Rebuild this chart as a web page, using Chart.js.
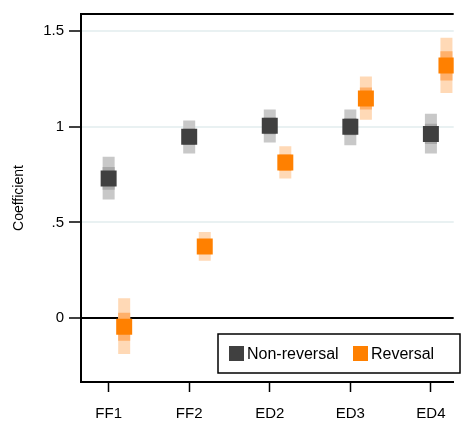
<!DOCTYPE html>
<html>
<head>
<meta charset="utf-8">
<script src="https://cdn.jsdelivr.net/npm/chart.js@4/dist/chart.umd.min.js"></script>
<style>
  html, body { margin: 0; padding: 0; background: #fff; overflow: hidden; }
  #wrap { width: 465px; height: 426px; }
</style>
</head>
<body>
<div id="wrap"><canvas id="chart" width="465" height="426"></canvas></div>
<script>
// ===== DATA =====
const categories  = ["FF1", "FF2", "ED2", "ED3", "ED4"];
const seriesNames = ["Non-reversal", "Reversal"];
const yTickValues = [0, 0.5, 1, 1.5];
const yTickLabels = ["0", ".5", "1", "1.5"];

// non-reversal: point estimate, inner band, outer band
const nonRevCoef  = [0.73, 0.948, 1.005, 1.0, 0.962];
const nonRevInLo  = [0.67, 0.905, 0.96, 0.955, 0.91];
const nonRevInHi  = [0.79, 0.99, 1.048, 1.045, 1.015];
const nonRevOutLo = [0.62, 0.86, 0.917, 0.903, 0.86];
const nonRevOutHi = [0.843, 1.033, 1.09, 1.09, 1.068];

// reversal
const revCoef  = [-0.045, 0.374, 0.813, 1.147, 1.32];
const revInLo  = [-0.118, 0.335, 0.77, 1.09, 1.242];
const revInHi  = [0.028, 0.41, 0.855, 1.205, 1.395];
const revOutLo = [-0.188, 0.30, 0.729, 1.037, 1.176];
const revOutHi = [0.104, 0.45, 0.898, 1.263, 1.465];

// ===== STYLE =====
const FONT      = "'Liberation Sans', Arial, sans-serif";
const DARK      = "#404040";
const GRAY_IN   = "#a9a9a9";
const GRAY_OUT  = "#c8c8c8";
const ORANGE    = "#ff8000";
const ORA_IN    = "#ffb06a";
const ORA_OUT   = "#ffd9b6";
const REV_SHIFT = 0.193;   // reversal sits right of the tick

// vertical bars as thick line segments, broken by null points
function bandPoints(lo, hi, shift) {
  const pts = [];
  lo.forEach((v, i) => {
    const x = i + 1 + shift;
    pts.push({ x, y: v }, { x, y: hi[i] }, { x: x + 0.5, y: null });
  });
  return pts;
}

function markerPoints(vals, shift) {
  return vals.map((v, i) => ({ x: i + 1 + shift, y: v }));
}

function band(lo, hi, shift, color, order) {
  return {
    type: "line",
    data: bandPoints(lo, hi, shift),
    borderColor: color,
    borderWidth: 12,
    borderCapStyle: "butt",
    pointRadius: 0,
    spanGaps: false,
    showLine: true,
    order
  };
}

function markers(vals, shift, color) {
  return {
    type: "scatter",
    data: markerPoints(vals, shift),
    pointStyle: "rect",
    pointRadius: 11.3,
    backgroundColor: color,
    borderColor: color,
    borderWidth: 0,
    order: 0
  };
}

// ===== PLUGINS =====
const frameAndLegend = {
  id: "frameAndLegend",
  afterDraw(chart) {
    const { ctx, chartArea } = chart;
    ctx.save();
    // top frame line
    ctx.strokeStyle = "#000";
    ctx.lineWidth = 2;
    ctx.beginPath();
    ctx.moveTo(chartArea.left - 1, chartArea.top);
    ctx.lineTo(chartArea.right, chartArea.top);
    ctx.stroke();

    // legend box
    const bx = 218, by = 334, bw = 242, bh = 39;
    ctx.fillStyle = "#fff";
    ctx.fillRect(bx, by, bw, bh);
    ctx.lineWidth = 1.5;
    ctx.strokeRect(bx, by, bw, bh);

    const cy = by + bh / 2;
    const items = [
      { x: 229, color: DARK,   label: seriesNames[0] },
      { x: 353, color: ORANGE, label: seriesNames[1] }
    ];
    ctx.font = "16px " + FONT;
    ctx.textBaseline = "middle";
    items.forEach(it => {
      ctx.fillStyle = it.color;
      ctx.fillRect(it.x, cy - 7.5, 15, 15);
      ctx.fillStyle = "#000";
      ctx.fillText(it.label, it.x + 18, cy + 1);
    });
    ctx.restore();
  }
};

// ===== CHART =====
new Chart(document.getElementById("chart"), {
  type: "scatter",
  data: {
    datasets: [
      band(nonRevOutLo, nonRevOutHi, 0, GRAY_OUT, 2),
      band(nonRevInLo, nonRevInHi, 0, GRAY_IN, 1),
      markers(nonRevCoef, 0, DARK),
      band(revOutLo, revOutHi, REV_SHIFT, ORA_OUT, 2),
      band(revInLo, revInHi, REV_SHIFT, ORA_IN, 1),
      markers(revCoef, REV_SHIFT, ORANGE)
    ]
  },
  options: {
    responsive: false,
    animation: false,
    layout: { padding: { top: 13, right: 0, left: 0, bottom: 0 } },
    plugins: {
      legend: { display: false },
      tooltip: { enabled: false }
    },
    scales: {
      x: {
        type: "linear",
        min: 0.657,
        max: 5.283,
        afterFit: s => { s.height = 44; },
        afterBuildTicks: s => { s.ticks = categories.map((c, i) => ({ value: i + 1 })); },
        ticks: {
          callback: v => categories[v - 1],
          color: "#000",
          font: { family: FONT, size: 15 },
          padding: 13,
          autoSkip: false,
          maxRotation: 0
        },
        grid: {
          drawOnChartArea: false,
          drawTicks: true,
          tickLength: 10,
          tickColor: "#000",
          tickWidth: 1.5
        },
        border: { color: "#000", width: 2 }
      },
      y: {
        min: -0.334,
        max: 1.589,
        afterFit: s => { s.width = 81; },
        afterBuildTicks: s => { s.ticks = yTickValues.map(v => ({ value: v })); },
        ticks: {
          callback: v => yTickLabels[yTickValues.indexOf(v)],
          color: "#000",
          font: { family: FONT, size: 15 },
          padding: 5
        },
        grid: {
          color: c => (c.tick && c.tick.value === 0) ? "#000" : "#e9f1f2",
          lineWidth: 2,
          tickLength: 12,
          tickColor: "#000",
          tickWidth: 1.5
        },
        border: { color: "#000", width: 2 },
        title: {
          display: true,
          text: "Coefficient",
          color: "#000",
          font: { family: FONT, size: 14 },
          padding: { top: 11, bottom: 0 }
        }
      }
    }
  },
  plugins: [frameAndLegend]
});
</script>
</body>
</html>
